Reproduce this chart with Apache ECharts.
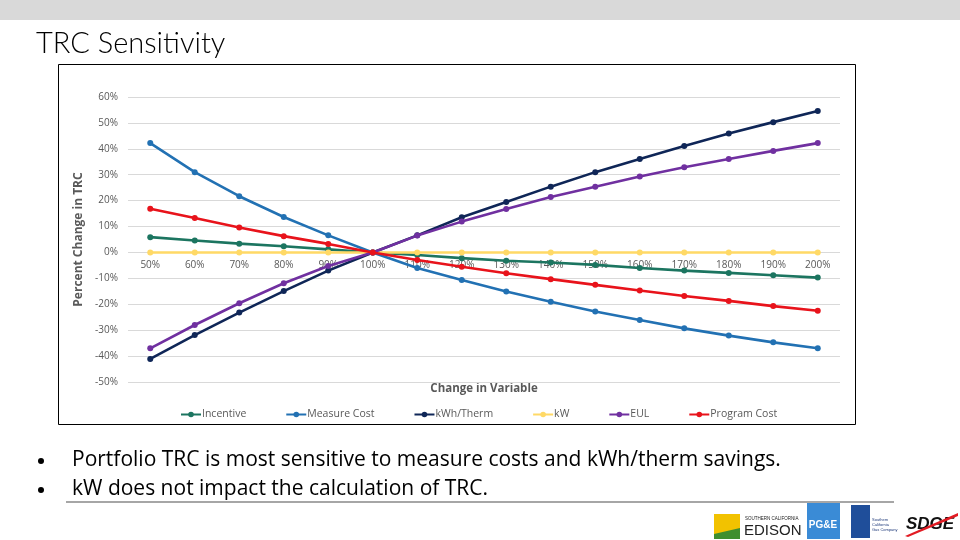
<!DOCTYPE html>
<html>
<head>
<meta charset="utf-8">
<script src="https://cdn.jsdelivr.net/npm/echarts@6/dist/echarts.min.js"></script>
<style>
html,body{margin:0;padding:0;background:#fff;}
#main{width:960px;height:540px;}
</style>
</head>
<body>
<div id="main"></div>
<script>
var categories = ['50%','60%','70%','80%','90%','100%','110%','120%','130%','140%','150%','160%','170%','180%','190%','200%'];
var incentive   = [5.9, 4.6, 3.4, 2.4, 1.2, 0, -1.0, -2.2, -3.2, -3.9, -4.8, -6.0, -7.0, -7.9, -8.8, -9.7];
var measureCost = [42.2, 31.0, 21.7, 13.7, 6.6, 0, -6.0, -10.6, -15.1, -19.0, -22.8, -26.1, -29.3, -32.1, -34.7, -37.0];
var kwhTherm    = [-41.1, -31.9, -23.2, -14.9, -7.0, 0, 6.6, 13.6, 19.5, 25.4, 31.0, 36.1, 41.1, 45.9, 50.3, 54.6];
var kw          = [0, 0, 0, 0, 0, 0, 0, 0, 0, 0, 0, 0, 0, 0, 0, 0];
var eul         = [-37.0, -28.0, -19.6, -11.9, -5.2, 0, 6.5, 11.9, 16.8, 21.4, 25.4, 29.3, 32.9, 36.1, 39.2, 42.2];
var programCost = [16.9, 13.3, 9.6, 6.3, 3.3, 0, -2.9, -5.5, -8.0, -10.3, -12.5, -14.7, -16.8, -18.7, -20.7, -22.5];
var seriesNames = ['Incentive','Measure Cost','kWh/Therm','kW','EUL','Program Cost'];
var seriesColors = ['#1C7560','#2271B3','#0F2657','#FFD966','#7030A0','#E8131B'];
var seriesData = [incentive, measureCost, kwhTherm, kw, eul, programCost];
var bullets = ['Portfolio TRC is most sensitive to measure costs and kWh/therm savings.',
               'kW does not impact the calculation of TRC.'];

var chart = echarts.init(document.getElementById('main'));
var series = seriesNames.map(function(n,i){
  return {
    name:n, type:'line', data:seriesData[i],
    symbol:'circle', symbolSize:6, showSymbol:true,
    lineStyle:{width:2.6,color:seriesColors[i]},
    itemStyle:{color:seriesColors[i]},
    emphasis:{disabled:true}, animation:false, z:2+i
  };
});

var gfx = [
  {type:'rect', shape:{x:0,y:0,width:960,height:20}, style:{fill:'#D9D9D9'}},
  {type:'text', left:36, top:29, style:{text:'TRC Sensitivity', font:'300 29px Lato', fill:'#000'}},
  {type:'rect', shape:{x:58.5,y:64.5,width:797,height:360}, style:{fill:'none',stroke:'#000',lineWidth:1}, z:0},
  {type:'text', x:484, y:389, style:{text:'Change in Variable', font:'bold 11.5px "Open Sans"', fill:'#595959', textAlign:'center', textVerticalAlign:'middle'}},
  {type:'circle', shape:{cx:41,cy:461,r:3}, style:{fill:'#000'}},
  {type:'circle', shape:{cx:41,cy:490,r:3}, style:{fill:'#000'}},
  {type:'text', x:72, y:460, style:{text:bullets[0], font:'21px "Open Sans"', fill:'#000', textVerticalAlign:'middle'}},
  {type:'text', x:72, y:489, style:{text:bullets[1], font:'21px "Open Sans"', fill:'#000', textVerticalAlign:'middle'}},
  {type:'line', shape:{x1:66,y1:502,x2:894,y2:502}, style:{stroke:'#A6A6A6',lineWidth:2}},
  // SCE logo
  {type:'rect', shape:{x:714,y:514,width:26,height:25}, style:{fill:'#F2C200'}},
  {type:'polygon', shape:{points:[[714,539],[740,539],[740,528],[714,534]]}, style:{fill:'#3E8E2F'}},
  {type:'text', x:745, y:519, style:{text:'SOUTHERN CALIFORNIA', font:'4.5px "Liberation Sans"', fill:'#222', textVerticalAlign:'middle'}},
  {type:'text', x:744, y:531, style:{text:'EDISON', font:'15px "Liberation Sans"', fill:'#222', textVerticalAlign:'middle'}},
  // PG&E logo
  {type:'rect', shape:{x:807,y:503,width:33,height:36}, style:{fill:'#3A8BD6'}},
  {type:'text', x:823, y:525, style:{text:'PG&E', font:'bold 10px "Liberation Sans"', fill:'#fff', textAlign:'center', textVerticalAlign:'middle'}},
  // SoCalGas logo
  {type:'rect', shape:{x:851,y:505,width:19,height:33}, style:{fill:'#1F4E9A'}},
  {type:'text', x:872, y:517, style:{text:'Southern\nCalifornia\nGas Company', font:'4px "Liberation Sans"', fill:'#1F3A7A', lineHeight:5}},
  // SDGE logo
  {type:'text', x:930, y:524, style:{text:'SDGE', font:'italic bold 17px "Liberation Sans"', fill:'#111', textAlign:'center', textVerticalAlign:'middle'}},
  {type:'polygon', shape:{points:[[905,536],[958,513],[958,516],[908,537]]}, style:{fill:'#E21B23'}}
];

chart.setOption({
  animation:false,
  backgroundColor:'#fff',
  color:seriesColors,
  textStyle:{fontFamily:'"Open Sans", sans-serif'},
  grid:{left:128, right:120, top:97, bottom:158, containLabel:false},
  legend:{
    show:true, left:175, top:404, itemWidth:20, itemHeight:7, itemGap:39,
    textStyle:{fontSize:10.5, color:'#595959', fontFamily:'"Open Sans"', padding:[0,0,0,-4]},
    data:seriesNames.map(function(n){return {name:n};})
  },
  xAxis:{
    type:'category', data:categories, boundaryGap:true, position:'bottom', offset:-129.4,
    axisLine:{show:false, onZero:false},
    axisTick:{show:false},
    axisLabel:{color:'#595959', fontSize:10, margin:8, interval:0},
    splitLine:{show:false}
  },
  yAxis:{
    type:'value', min:-50, max:60, interval:10,
    name:'Percent Change in TRC', nameLocation:'middle', nameGap:38,
    nameTextStyle:{color:'#595959', fontSize:12, fontWeight:'bold', fontFamily:'"Open Sans"'},
    axisLine:{show:false}, axisTick:{show:false},
    axisLabel:{color:'#595959', fontSize:10, margin:10, formatter:'{value}%'},
    splitLine:{lineStyle:{color:'#D9D9D9',width:1}}
  },
  series:series,
  graphic:gfx
});
</script>
</body>
</html>
